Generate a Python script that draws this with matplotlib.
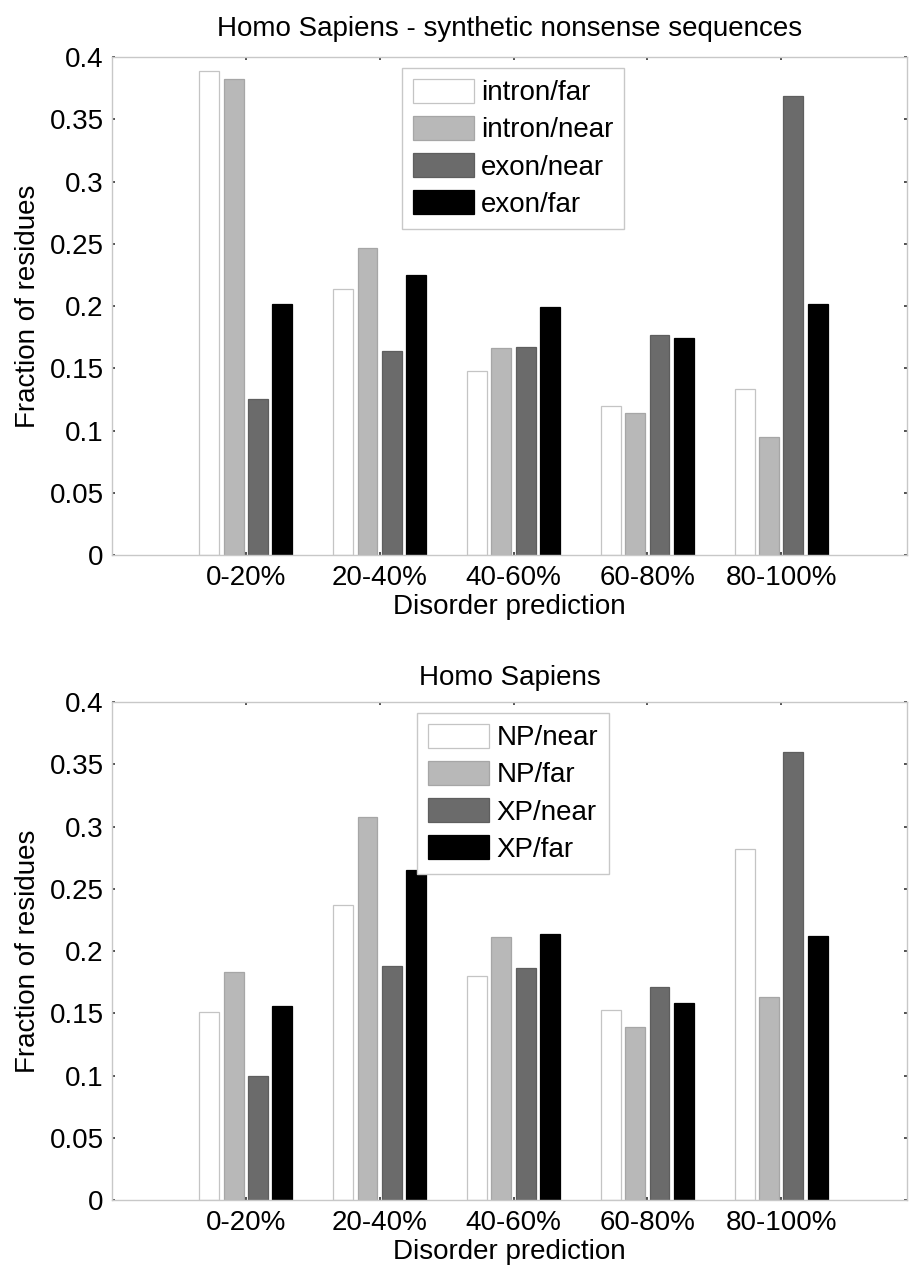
import numpy as np
import matplotlib
matplotlib.use('Agg')
import matplotlib.pyplot as plt

plt.rcParams['font.family'] = ['Liberation Sans', 'DejaVu Sans']

categories = ['0-20%', '20-40%', '40-60%', '60-80%', '80-100%']

# top panel: synthetic nonsense sequences
top_labels = ['intron/far', 'intron/near', 'exon/near', 'exon/far']
intron_far = [0.389, 0.214, 0.148, 0.120, 0.133]
intron_near = [0.382, 0.247, 0.166, 0.114, 0.095]
exon_near = [0.125, 0.164, 0.167, 0.177, 0.369]
exon_far = [0.202, 0.225, 0.199, 0.174, 0.202]

# bottom panel: Homo Sapiens
bot_labels = ['NP/near', 'NP/far', 'XP/near', 'XP/far']
np_near = [0.151, 0.237, 0.180, 0.153, 0.282]
np_far = [0.183, 0.308, 0.211, 0.139, 0.163]
xp_near = [0.100, 0.188, 0.186, 0.171, 0.360]
xp_far = [0.156, 0.265, 0.214, 0.158, 0.212]

faces = ['#ffffff', '#b8b8b8', '#6b6b6b', '#000000']
edges = ['#c4c4c4', '#a6a6a6', '#5e5e5e', '#000000']
FS = 20


def panel(ax, series, labels, title, title_pad, leg_x):
    x = np.arange(1, len(categories) + 1)
    w = 0.149
    step = 0.1815
    for i, (vals, lab) in enumerate(zip(series, labels)):
        ax.bar(x + (i - 1.5) * step, vals, width=w, color=faces[i],
               edgecolor=edges[i], linewidth=0.9, label=lab)
    ax.set_xlim(0.0, 5.94)
    ax.set_ylim(0, 0.4)
    ax.set_xticks(x)
    ax.set_xticklabels(categories, fontsize=FS)
    ax.set_yticks(np.arange(0, 0.401, 0.05))
    ax.set_yticklabels(['0', '0.05', '0.1', '0.15', '0.2', '0.25', '0.3', '0.35', '0.4'], fontsize=FS)
    ax.tick_params(axis='x', direction='in', length=2.5, width=1.2, color='#333333',
                   pad=7, top=True)
    ax.tick_params(axis='y', direction='in', length=2.5, width=1.2, color='#333333',
                   pad=6, right=True)
    for sp in ax.spines.values():
        sp.set_color('#c8c8c8')
        sp.set_linewidth(1.0)
    ax.set_xlabel('Disorder prediction', fontsize=FS, labelpad=2)
    ax.set_ylabel('Fraction of residues', fontsize=FS, labelpad=6)
    ax.set_title(title, fontsize=FS, pad=title_pad)
    leg = ax.legend(loc='upper left', bbox_to_anchor=(leg_x, 0.979), fontsize=FS,
                    fancybox=False, framealpha=1, edgecolor='#c8c8c8',
                    handlelength=2.2, handleheight=0.95, handletextpad=0.25,
                    labelspacing=0.35, borderpad=0.4, borderaxespad=0)
    leg.get_frame().set_linewidth(1.0)


fig = plt.figure(figsize=(9.09, 12.68), dpi=100)
ax1 = fig.add_axes([0.1232, 0.5623, 0.8746, 0.3927])
ax2 = fig.add_axes([0.1232, 0.0536, 0.8746, 0.3927])

panel(ax1, [intron_far, intron_near, exon_near, exon_far], top_labels,
      'Homo Sapiens - synthetic nonsense sequences', 15, 0.3644)
panel(ax2, [np_near, np_far, xp_near, xp_far], bot_labels,
      'Homo Sapiens', 12, 0.384)

fig.savefig('out.png', dpi=100)
